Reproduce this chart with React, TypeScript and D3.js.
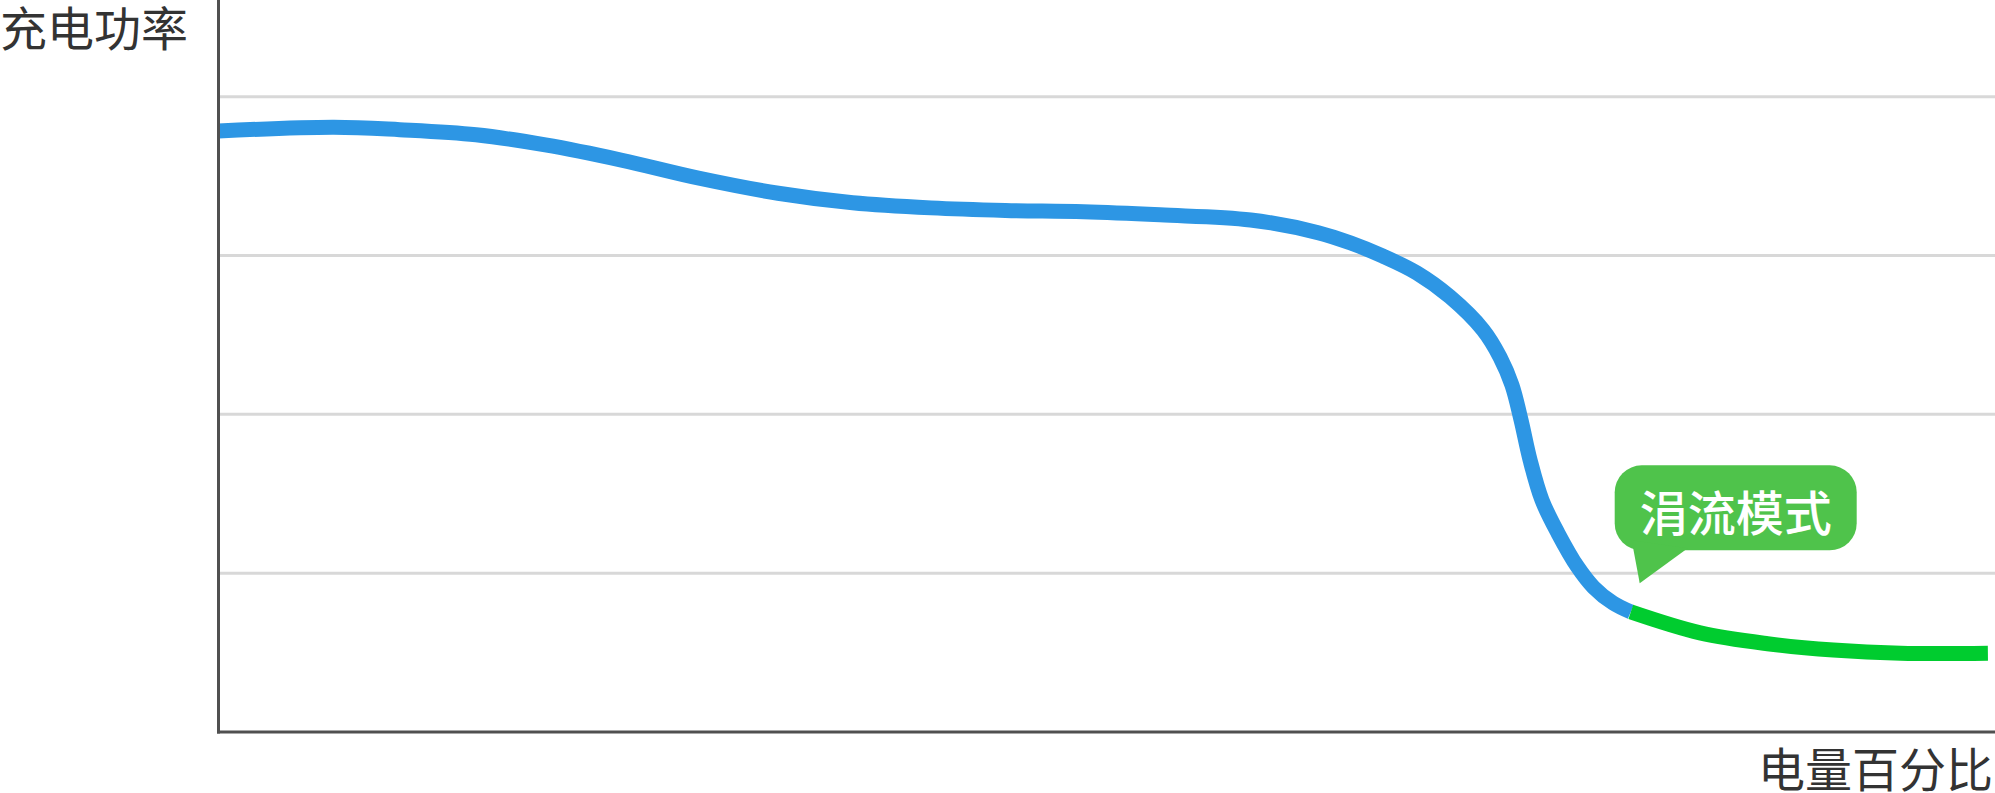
import React from "react";
import * as d3 from "d3";

const W = 1995;
const H = 793;

// Data (x: battery percentage, y: relative charging power)
const gridValues = [25, 50, 75, 100];
const fastSoc = [0, 6.5, 10.2, 14.5, 18.4, 22.7, 27.0, 31.5, 35.7, 40.1, 44.3, 48.7, 53.0, 58.1, 61.9, 63.7, 65.55, 67.46, 69.32, 71.18, 72.14, 72.81, 73.32, 73.83, 74.5, 75.4, 76.5, 77.4, 78.5, 79.5];
const fastPower = [94.6, 95.2, 94.8, 94.0, 92.4, 90.0, 87.2, 84.8, 83.3, 82.5, 82.1, 81.9, 81.4, 80.6, 78.6, 77.0, 74.9, 72.25, 68.5, 63.3, 59.0, 54.6, 49.1, 42.8, 36.5, 31.3, 26.0, 22.8, 20.3, 18.9];
const trickleSoc = [79.5, 83.4, 87.2, 90.9, 94.7, 99.6];
const tricklePower = [18.9, 15.6, 13.9, 12.9, 12.4, 12.4];
const yTitle = "充电功率";
const xTitle = "电量百分比";
const calloutText = "涓流模式";
const calloutAnchor = [80.0, 23.4];

const FONT = '"Noto Sans CJK SC", "Noto Sans", sans-serif';

export default function App() {
  const x = d3.scaleLinear().domain([0, 100]).range([218.5, 1995]);
  const y = d3.scaleLinear().domain([0, 100]).range([732, 96.7]);

  const line = d3
    .line<[number, number]>()
    .x((d) => x(d[0]))
    .y((d) => y(d[1]))
    .curve(d3.curveCatmullRom.alpha(0.5));

  const fast = fastSoc.map((s, i) => [s, fastPower[i]] as [number, number]);
  const trickle = trickleSoc.map((s, i) => [s, tricklePower[i]] as [number, number]);

  const tx = x(calloutAnchor[0]);
  const ty = y(calloutAnchor[1]);
  const bx = tx - 25;
  const by = ty - 118;
  const bw = 242;
  const bh = 85;

  return (
    <div style={{ position: "fixed", left: 0, top: 0 }}>
      <svg width={W} height={H} style={{ display: "block", background: "#fff" }}>
        {gridValues.map((g) => (
          <line key={g} x1={x(0)} x2={W} y1={y(g)} y2={y(g)} stroke="#D8D8D8" strokeWidth={3} />
        ))}
        <path d={line(fast) || ""} fill="none" stroke="#2D96E4" strokeWidth={15} strokeLinecap="butt" />
        <path d={line(trickle) || ""} fill="none" stroke="#00CC2F" strokeWidth={15} strokeLinecap="butt" />
        <line x1={x(0)} x2={x(0)} y1={0} y2={y(0) + 1.5} stroke="#505050" strokeWidth={3} />
        <line x1={x(0) - 1.5} x2={W} y1={y(0)} y2={y(0)} stroke="#505050" strokeWidth={3} />
        <g>
          <rect x={bx} y={by} width={bw} height={bh} rx={27} ry={27} fill="#4FC34B" />
          <path d={`M${tx - 8},${by + bh - 10} L${tx},${ty} L${tx + 48},${by + bh - 2} Z`} fill="#4FC34B" />
          <text x={bx + bw / 2} y={by + 66} textAnchor="middle" fill="#fff" fontSize={48} fontWeight={500} fontFamily={FONT}>
            {calloutText}
          </text>
        </g>
        <text x={0} y={46} fill="#333" fontSize={47} fontFamily={FONT}>
          {yTitle}
        </text>
        <text x={1993} y={787} textAnchor="end" fill="#333" fontSize={47} fontFamily={FONT}>
          {xTitle}
        </text>
      </svg>
    </div>
  );
}
